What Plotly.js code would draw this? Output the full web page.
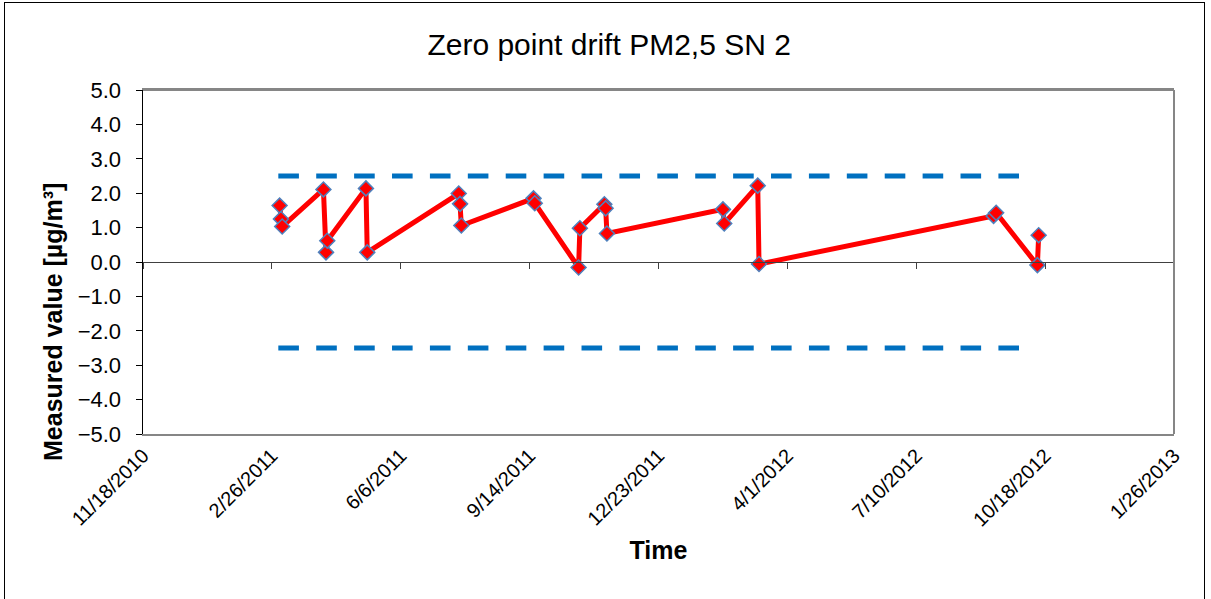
<!DOCTYPE html>
<html>
<head>
<meta charset="utf-8">
<script src="https://cdn.plot.ly/plotly-3.0.1.min.js"></script>
<style>
  html, body { margin: 0; padding: 0; background: #fff; }
  #wrap { position: relative; width: 1211px; height: 599px; }
  #chart { width: 1211px; height: 599px; }
  #frame { position: absolute; left: 4px; top: 2px; width: 1201px; height: 620px;
           border: 1.5px solid #000; pointer-events: none; box-sizing: border-box; }
</style>
</head>
<body>
<div id="wrap">
  <div id="chart"></div>
  <div id="frame"></div>
</div>
<script>
// ---- data ----
const measDates = [
  "2011-03-04", "2011-03-05", "2011-03-06",
  "2011-04-07", "2011-04-09", "2011-04-10",
  "2011-05-10", "2011-05-11",
  "2011-07-21", "2011-07-22", "2011-07-23",
  "2011-09-17", "2011-09-18",
  "2011-10-22", "2011-10-23",
  "2011-11-11", "2011-11-12", "2011-11-13",
  "2012-02-11", "2012-02-12",
  "2012-03-09", "2012-03-10",
  "2012-09-08", "2012-09-10",
  "2012-10-12", "2012-10-13"
];
const measValues = [
  1.64, 1.25, 1.03,
  2.11, 0.28, 0.62,
  2.14, 0.28,
  1.99, 1.69, 1.06,
  1.85, 1.71,
  -0.16, 0.98,
  1.68, 1.56, 0.83,
  1.53, 1.12,
  2.22, -0.06,
  1.34, 1.43,
  -0.09, 0.78
];
const limitDates = ["2011-03-03", "2012-09-29"];
const upperLimit = [2.5, 2.5];
const lowerLimit = [-2.5, -2.5];

const tickDates = ["2010-11-18", "2011-02-26", "2011-06-06", "2011-09-14", "2011-12-23",
                   "2012-04-01", "2012-07-10", "2012-10-18", "2013-01-26"];
const tickLabels = ["11/18/2010", "2/26/2011", "6/6/2011", "9/14/2011", "12/23/2011",
                    "4/1/2012", "7/10/2012", "10/18/2012", "1/26/2013"];
const xRange = ["2010-11-18", "2013-01-26"];
const yRange = [-5, 5];
const yTicks = [-5, -4, -3, -2, -1, 0, 1, 2, 3, 4, 5];

const FONT = '"Liberation Sans", Arial, sans-serif';

const traces = [
  {
    x: limitDates, y: upperLimit, xaxis: 'x2', yaxis: 'y',
    mode: 'lines', line: { color: '#0070C0', width: 5, dash: '20.6px,17.3px' },
    hoverinfo: 'skip', showlegend: false
  },
  {
    x: limitDates, y: lowerLimit, xaxis: 'x2', yaxis: 'y',
    mode: 'lines', line: { color: '#0070C0', width: 5, dash: '20.6px,17.3px' },
    hoverinfo: 'skip', showlegend: false
  },
  {
    x: measDates, y: measValues, xaxis: 'x', yaxis: 'y',
    mode: 'lines+markers',
    line: { color: '#FF0000', width: 5 },
    marker: { symbol: 'diamond', size: 11.5, color: '#FF0000',
              line: { color: '#4F81BD', width: 1.5 } },
    showlegend: false
  }
];

const layout = {
  width: 1211, height: 599,
  margin: { l: 143, r: 37, t: 90, b: 165 },
  paper_bgcolor: '#fff', plot_bgcolor: '#fff',
  showlegend: false,
  title: {
    text: 'Zero point drift PM2,5 SN 2',
    font: { family: FONT, size: 30, color: '#000' },
    x: 0.503, xanchor: 'center', y: 0.925, yanchor: 'middle'
  },
  xaxis: {
    type: 'date', range: xRange,
    tickmode: 'array', tickvals: tickDates, ticktext: tickLabels,
    tickangle: -45, ticks: '', showgrid: false, zeroline: false,
    showline: true, linecolor: '#868686', linewidth: 2, mirror: true,
    tickfont: { family: FONT, size: 20, color: '#000' },
    title: { text: 'Time', font: { family: FONT, size: 25, color: '#000', weight: 'bold' }, standoff: 12 },
    automargin: false
  },
  xaxis2: {
    type: 'date', range: xRange, overlaying: 'x', anchor: 'free', position: 0.5,
    tickmode: 'array', tickvals: tickDates, showticklabels: false,
    ticks: 'outside', ticklen: 6, tickwidth: 1, tickcolor: '#404040',
    showline: true, linecolor: '#404040', linewidth: 1,
    showgrid: false, zeroline: false
  },
  yaxis: {
    range: yRange, tickmode: 'array', tickvals: yTicks, tickformat: '.1f',
    ticks: 'outside', ticklen: 6, tickwidth: 1, tickcolor: '#000',
    ticklabelstandoff: 10,
    showline: true, linecolor: '#000', linewidth: 1.5,
    showgrid: false, zeroline: false,
    tickfont: { family: FONT, size: 22, color: '#000' },
    automargin: false
  },
  annotations: [
    { text: 'Measured value [µg/m³]', textangle: -90, showarrow: false,
      xref: 'paper', yref: 'paper', x: 0, y: 0.5, xanchor: 'center', yanchor: 'middle',
      xshift: -90, yshift: -60,
      font: { family: FONT, size: 25, color: '#000', weight: 'bold' } }
  ],
  shapes: [
    { type: 'line', xref: 'paper', yref: 'paper', x0: 1, x1: 1, y0: 0, y1: 1,
      line: { color: '#868686', width: 2 } },
    { type: 'line', xref: 'paper', yref: 'paper', x0: 0, x1: 1, y0: 1, y1: 1,
      line: { color: '#868686', width: 2 } }
  ]
};

Plotly.newPlot('chart', traces, layout, { staticPlot: true, displayModeBar: false });
</script>
</body>
</html>
